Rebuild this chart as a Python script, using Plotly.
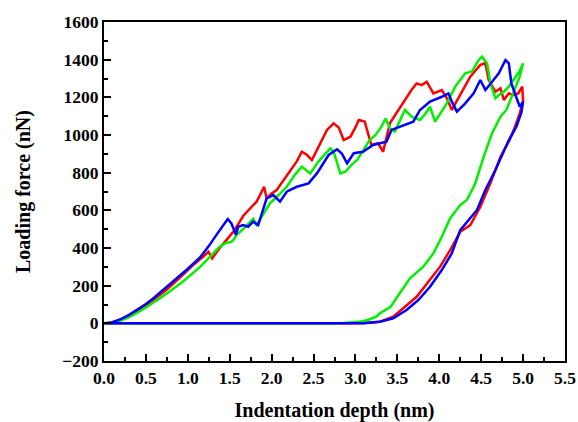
import plotly.graph_objects as go

# ---- data ----
red_x = [0, 0.05, 0.1, 0.2, 0.3, 0.4, 0.5, 0.6, 0.75, 0.9, 1.07, 1.18, 1.245, 1.29, 1.38, 1.46, 1.55,
         1.66, 1.76, 1.82, 1.86, 1.91, 1.94, 2.0, 2.06, 2.14, 2.22, 2.30, 2.36, 2.42, 2.48, 2.56, 2.66, 2.74,
         2.80, 2.86, 2.94, 3.0, 3.04, 3.11, 3.19, 3.27, 3.33, 3.41, 3.51, 3.61, 3.67, 3.73, 3.79, 3.85, 3.93,
         4.03, 4.09, 4.15, 4.25, 4.37, 4.49, 4.55, 4.59, 4.67, 4.73, 4.77, 4.83, 4.88, 4.94, 4.99, 5.0,
         4.96, 4.90, 4.84, 4.73, 4.61, 4.49, 4.37, 4.25, 4.13, 4.01, 3.89, 3.73, 3.57, 3.45, 3.29, 3.1, 2.9, 0]
red_y = [0, 1, 5, 19, 40, 65, 95, 128, 180, 240, 312, 352, 380, 345, 400, 442, 490,
         570, 619, 646, 680, 725, 664, 690, 708, 760, 814, 860, 911, 895, 867, 940, 1027, 1062,
         1040, 973, 991, 1040, 1080, 1071, 947, 956, 911, 1062, 1133, 1203, 1240, 1274, 1265, 1283, 1221,
         1239, 1195, 1133, 1212, 1310, 1372, 1381, 1292, 1230, 1248, 1186, 1221, 1212, 1220, 1257, 1180,
         1115, 1040, 973, 885, 744, 619, 522, 486, 389, 301, 230, 141, 80, 35, 8, 2, 0, 0]

green_x = [0, 0.05, 0.1, 0.2, 0.3, 0.4, 0.5, 0.6, 0.75, 0.95, 1.15, 1.28, 1.38, 1.45, 1.52, 1.55, 1.58,
           1.66, 1.74, 1.78, 1.82, 1.9, 1.98, 2.08, 2.18, 2.28, 2.36, 2.46, 2.56, 2.64, 2.70, 2.74, 2.78, 2.82,
           2.88, 2.95, 3.02, 3.10, 3.17, 3.24, 3.31, 3.36, 3.41, 3.47, 3.53, 3.59, 3.67, 3.77, 3.83, 3.89, 3.95,
           4.02, 4.09, 4.19, 4.31, 4.39, 4.47, 4.51, 4.57, 4.61, 4.67, 4.72, 4.77, 4.83, 4.90, 4.96, 5.0,
           4.96, 4.88, 4.80, 4.73, 4.63, 4.53, 4.43, 4.33, 4.25, 4.13, 4.03, 3.93, 3.81, 3.65, 3.56, 3.50,
           3.42, 3.29, 3.25, 3.15, 3.05, 2.82, 0]
green_y = [0, 0.5, 4, 15, 33, 56, 83, 113, 159, 225, 301, 360, 407, 425, 433, 445, 469,
           500, 540, 555, 522, 580, 637, 680, 725, 790, 832, 796, 860, 900, 929, 911, 850, 796,
           805, 840, 867, 920, 973, 1000, 1044, 1088, 1036, 1018, 1080, 1133, 1097, 1080, 1110, 1150, 1071,
           1120, 1168, 1257, 1328, 1337, 1398, 1416, 1381, 1274, 1195, 1215, 1230, 1257, 1300, 1340, 1381,
           1310, 1221, 1133, 1097, 1009, 885, 744, 655, 628, 558, 460, 372, 301, 239, 177, 141,
           88, 53, 35, 18, 8, 0, 0]

blue_x = [0, 0.05, 0.1, 0.2, 0.3, 0.4, 0.5, 0.6, 0.75, 0.9, 1.0, 1.146, 1.25, 1.35, 1.476, 1.52, 1.575,
          1.60, 1.66, 1.72, 1.78, 1.84, 1.90, 1.94, 2.02, 2.10, 2.18, 2.30, 2.44, 2.54, 2.68, 2.78, 2.84, 2.90,
          2.98, 3.09, 3.21, 3.31, 3.37, 3.43, 3.53, 3.63, 3.69, 3.77, 3.89, 4.03, 4.11, 4.15, 4.21, 4.31, 4.41,
          4.49, 4.55, 4.63, 4.71, 4.79, 4.83, 4.86, 4.92, 4.96, 5.0,
          4.98, 4.92, 4.83, 4.67, 4.55, 4.45, 4.33, 4.25, 4.15, 4.03, 3.89, 3.75, 3.61, 3.45, 3.29, 3.1, 2.9, 0]
blue_y = [0, 1, 6, 22, 45, 72, 103, 137, 194, 250, 290, 350, 410, 475, 554, 531, 469,
          513, 522, 513, 540, 522, 602, 664, 681, 646, 699, 725, 743, 796, 894, 924, 900, 850,
          903, 911, 947, 956, 964, 1027, 1044, 1062, 1071, 1133, 1177, 1203, 1221, 1177, 1124, 1168, 1221,
          1292, 1239, 1283, 1328, 1398, 1381, 1274, 1195, 1150, 1177,
          1120, 1044, 973, 814, 708, 602, 540, 495, 372, 283, 194, 124, 71, 27, 8, 1, 0, 0]

x_ticks = [0.0, 0.5, 1.0, 1.5, 2.0, 2.5, 3.0, 3.5, 4.0, 4.5, 5.0, 5.5]
y_ticks = [-200, 0, 200, 400, 600, 800, 1000, 1200, 1400, 1600]

series = [("red", red_x, red_y, "#ff0000"),
          ("green", green_x, green_y, "#00f000"),
          ("blue", blue_x, blue_y, "#0000ff")]

fig = go.Figure()
for name, xs, ys, col in series:
    fig.add_trace(go.Scatter(x=xs, y=ys, mode="lines", name=name,
                             line=dict(color=col, width=2.5), showlegend=False))

font_family = "Liberation Serif, Times New Roman, serif"
axis_common = dict(
    showline=True, linecolor="black", linewidth=2, mirror=True,
    ticks="inside", ticklen=7, tickwidth=2, tickcolor="black",
    showgrid=False, zeroline=False, automargin=False,
    tickfont=dict(family=font_family, size=17.5, color="black", weight="bold"),
)

fig.update_xaxes(range=[0, 5.5], tickvals=x_ticks, ticktext=[f"{v:.1f}" for v in x_ticks],
                 minor=dict(ticks="inside", ticklen=4, tickwidth=2, tickcolor="black", dtick=0.25),
                 title=dict(text="Indentation depth (nm)", standoff=23,
                            font=dict(family=font_family, size=20, color="black", weight="bold")),
                 **axis_common)
fig.update_yaxes(range=[-200, 1600], tickvals=y_ticks, ticktext=[str(v).replace("-", "\u2212") for v in y_ticks],
                 minor=dict(ticks="inside", ticklen=4, tickwidth=2, tickcolor="black", dtick=100),
                 title=dict(text="Loading force (nN)", standoff=26,
                            font=dict(family=font_family, size=20, color="black", weight="bold")),
                 **axis_common)

fig.update_layout(width=578, height=422, margin=dict(l=104, r=13, t=22, b=61),
                  paper_bgcolor="white", plot_bgcolor="white",
                  font=dict(family=font_family, color="black"))
fig.write_html("out.html", config={"displayModeBar": False},
               post_script="document.body.style.margin='0';document.body.style.padding='0';")
